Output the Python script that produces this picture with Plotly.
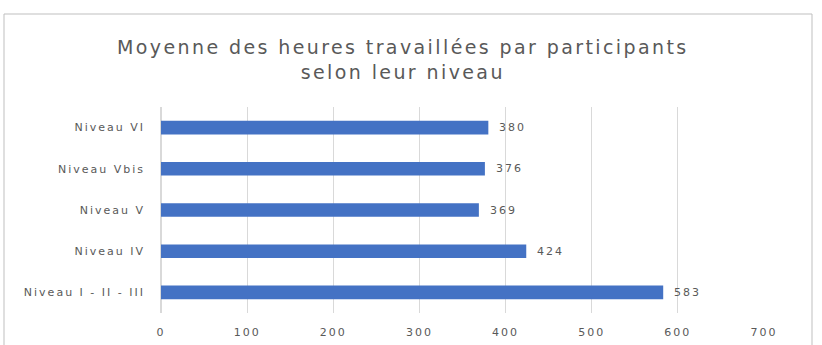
import plotly.graph_objects as go

# Average hours worked per participant, by level
niveaux = ["Niveau I - II - III", "Niveau IV", "Niveau V", "Niveau Vbis", "Niveau VI"]
heures = [583, 424, 369, 376, 380]
ticks_x = [0, 100, 200, 300, 400, 500, 600, 700]

FONT = "DejaVu Sans, Open Sans, sans-serif"
GREY = "#595959"

fig = go.Figure(
    go.Bar(
        x=heures,
        y=niveaux,
        orientation="h",
        width=0.33,
        marker=dict(color="#4472C4", line=dict(width=0)),
        hoverinfo="x+y",
    )
)

# value labels placed just right of each bar end
for lvl, val in zip(niveaux, heures):
    fig.add_annotation(
        x=val,
        y=lvl,
        text=str(val),
        showarrow=False,
        xanchor="left",
        yanchor="middle",
        xshift=12,
        font=dict(family=FONT, size=11, color=GREY),
    )

fig.update_layout(
    width=822,
    height=345,
    margin=dict(l=161, r=58, t=107, b=32),
    paper_bgcolor="white",
    plot_bgcolor="white",
    showlegend=False,
    title=dict(
        text="Moyenne des heures travaillées par participants<br>selon leur niveau",
        xref="container",
        x=0.49,
        xanchor="center",
        y=1 - 54 / 345,
        yanchor="middle",
        font=dict(family=FONT, size=19, color=GREY),
    ),
    xaxis=dict(
        range=[0, 700],
        tickvals=ticks_x,
        showgrid=True,
        gridcolor="#d9d9d9",
        gridwidth=1,
        zeroline=True,
        zerolinecolor="#d9d9d9",
        showline=False,
        ticks="",
        automargin=False,
        ticklabelstandoff=11,
        tickfont=dict(family=FONT, size=11, color=GREY),
    ),
    yaxis=dict(
        showgrid=False,
        showline=False,
        ticks="",
        automargin=False,
        ticklabelstandoff=15,
        tickfont=dict(family=FONT, size=11, color=GREY),
    ),
    shapes=[
        dict(
            type="rect",
            xref="paper",
            yref="paper",
            x0=-157 / 206 * 206 / 603,
            x1=(812 - 161) / 603,
            y0=-40 / 206,
            y1=(345 - 14 - 32) / 206,
            line=dict(color="#bfbfbf", width=1),
            fillcolor="rgba(0,0,0,0)",
            layer="below",
        )
    ],
)

# wider letter spacing for the chart's text
spacing_js = """
var gd = document.getElementById('{plot_id}');
function spread() {
  gd.querySelectorAll('.gtitle').forEach(function (t) { t.style.letterSpacing = '2.4px'; });
  gd.querySelectorAll('.xtick text, .ytick text, .annotation-text').forEach(function (t) {
    t.style.letterSpacing = '2px';
  });
}
spread();
gd.on('plotly_afterplot', spread);
"""

fig.write_html("out.html", post_script=spacing_js)
